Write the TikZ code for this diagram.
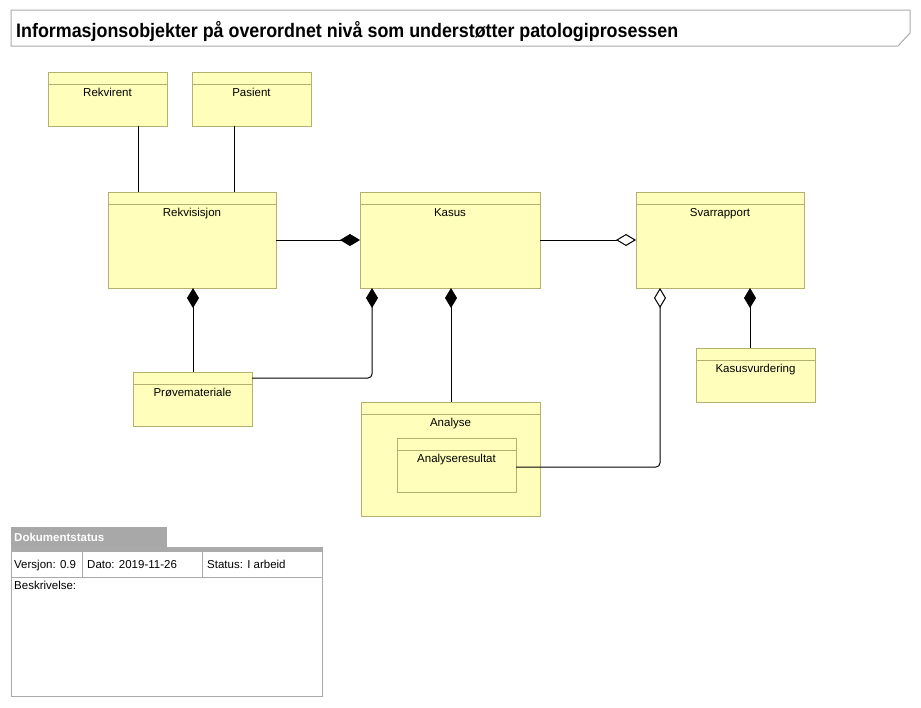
\documentclass[tikz,border=0pt]{standalone}
\usepackage{fontspec}
\setmainfont{Liberation Sans}
\usetikzlibrary{arrows.meta}
\definecolor{clsf}{RGB}{255,255,187}
\definecolor{clsb}{RGB}{181,176,112}
\definecolor{framec}{RGB}{170,170,170}
\definecolor{tabf}{RGB}{168,168,168}
\begin{document}
\begin{tikzpicture}[x=1pt,y=-1pt,
  cls/.style 2 args={draw=clsb,fill=clsf,line width=1pt,inner sep=0pt,outer sep=0pt,
    anchor=north west,minimum width=#1pt,minimum height=#2pt,
    path picture={\draw[clsb,line width=1pt]
      ([yshift=-12pt]path picture bounding box.north west) --
      ([yshift=-12pt]path picture bounding box.north east);}},
  lbl/.style={font=\fontsize{11.5}{13}\selectfont, anchor=base, inner sep=0pt, yshift=-24pt},
  con/.style={line width=1pt, black},
  dfill/.tip={Diamond[length=20pt,width=12pt]},
  dopen/.tip={Diamond[open,length=20pt,width=12pt,fill=white]},
  txt/.style={font=\fontsize{11.5}{13}\selectfont, anchor=base west, inner sep=0pt},
]
\useasboundingbox (0,0) rectangle (921,707);

% title
\draw[framec,line width=1pt] (11,10) -- (910,10) -- (910,33) -- (898,46) -- (11,46) -- cycle;
\node[anchor=base west, inner sep=0pt] (title) at (16,37)
  {\resizebox{662pt}{\height}{\fontsize{19.5}{22}\selectfont\bfseries Informasjonsobjekter på overordnet nivå som understøtter patologiprosessen}};

% classes
\node[cls={119}{54}, label={[lbl]north:Rekvirent}] (rekvirent) at (48,72) {};
\node[cls={119}{54}, label={[lbl]north:Pasient}] (pasient) at (192,72) {};
\node[cls={168}{96}, label={[lbl]north:Rekvisisjon}] (rekvisisjon) at (108,192) {};
\node[cls={180}{96}, label={[lbl]north:Kasus}] (kasus) at (360,192) {};
\node[cls={168}{96}, label={[lbl]north:Svarrapport}] (svar) at (636,192) {};
\node[cls={119}{54}, label={[lbl]north:Prøvemateriale}] (prove) at (133,372) {};
\node[cls={179}{114}, label={[lbl]north:Analyse}] (analyse) at (361,402) {};
\node[cls={119}{54}, label={[lbl]north:Analyseresultat}] (ares) at (397,438) {};
\node[cls={119}{54}, label={[lbl]north:Kasusvurdering}] (kasusv) at (696,348) {};

% connectors
\draw[con] (rekvirent.south -| 138,0) -- (rekvisisjon.north -| 138,0);
\draw[con] (pasient.south -| 234,0) -- (rekvisisjon.north -| 234,0);
\draw[con,-{dfill}] (rekvisisjon.east) -- (kasus.west);
\draw[con,-{dopen}] (kasus.east) -- (svar.west);
\draw[con,{dfill}-] (rekvisisjon.south -| 193,0) -- (prove.north -| 193,0);
\draw[con,{dfill}-,rounded corners=4pt] (kasus.south -| 372,0) -- (372,378) -- (prove.east |- 0,378);
\draw[con,{dfill}-] (kasus.south -| 451,0) -- (analyse.north -| 451,0);
\draw[con,{dopen}-,rounded corners=4pt] (svar.south -| 660,0) -- (660,467) -- (ares.east |- 0,467);
\draw[con,{dfill}-] (svar.south -| 750,0) -- (kasusv.north -| 750,0);

% document status
\fill[tabf] (11,527) rectangle (167,547);
\node[txt, font=\fontsize{11.5}{13}\selectfont\bfseries, text=white] (dokstat) at (14,541) {Dokumentstatus};
\fill[framec] (11,547) rectangle (322,552);
\draw[framec,line width=1pt] (11,547) rectangle (322,696);
\draw[framec,line width=1pt] (11,577) -- (322,577);
\draw[framec,line width=1pt] (82,552) -- (82,577);
\draw[framec,line width=1pt] (202,552) -- (202,577);
\node[txt] (versjon) at (14,568) {Versjon: 0.9};
\node[txt] (dato) at (87,568) {Dato: 2019-11-26};
\node[txt] (status) at (207,568) {Status: I arbeid};
\node[txt] (beskr) at (14,589) {Beskrivelse:};
\end{tikzpicture}
\end{document}
